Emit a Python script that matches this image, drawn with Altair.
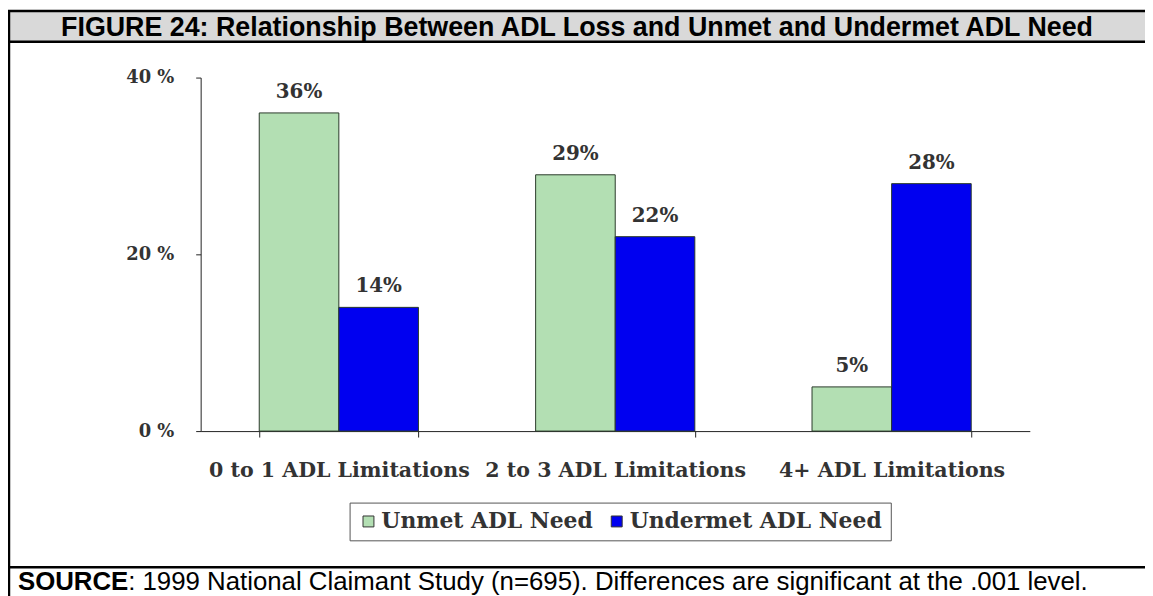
import altair as alt
import pandas as pd

categories = ["0 to 1 ADL Limitations", "2 to 3 ADL Limitations", "4+ ADL Limitations"]
series_names = ["Unmet ADL Need", "Undermet ADL Need"]
unmet = [36, 29, 5]
undermet = [14, 22, 28]
series_colors = ["#b3dfb3", "#0000f0"]
y_ticks = [0, 20, 40]
title_text = "FIGURE 24: Relationship Between ADL Loss and Unmet and Undermet ADL Need"
source_bold = "SOURCE"
source_rest = ":  1999 National Claimant Study (n=695). Differences are significant at the .001 level."

rows = []
for i, c in enumerate(categories):
    rows.append({"category": c, "series": series_names[0], "value": unmet[i]})
    rows.append({"category": c, "series": series_names[1], "value": undermet[i]})
df = pd.DataFrame(rows)
df["label"] = df["value"].astype(str) + "%"

W, H = 835, 356
SERIF = "DejaVu Serif"
SANS = "Liberation Sans"

x_enc = alt.X(
    "category:N", sort=categories,
    scale=alt.Scale(paddingInner=0.424, paddingOuter=0.212),
    axis=alt.Axis(title=None, labelAngle=0, tickBand="extent", tickSize=6,
                  labelPadding=24, labelFont=SERIF, labelFontWeight="bold",
                  labelFontSize=20.7, labelColor="#333", domainColor="#222",
                  tickColor="#222", labelLimit=0, grid=False),
)
xo_enc = alt.XOffset("series:N", sort=series_names,
                     scale=alt.Scale(paddingInner=0, paddingOuter=0))
y_enc = alt.Y(
    "value:Q", scale=alt.Scale(domain=[0, 40]),
    axis=alt.Axis(title=None, values=y_ticks, labelExpr="datum.value + ' %'",
                  tickSize=5, labelPadding=22, labelFont=SERIF,
                  labelFontWeight="bold", labelFontSize=18, labelColor="#333",
                  domainColor="#222", tickColor="#222", grid=False),
)

bars = alt.Chart(df).mark_bar(stroke="#2a3a2a", strokeWidth=1).encode(
    x=x_enc, xOffset=xo_enc, y=y_enc,
    color=alt.Color(
        "series:N", sort=series_names,
        scale=alt.Scale(domain=series_names, range=series_colors),
        legend=alt.Legend(
            title=None, orient="none", legendX=150, legendY=428,
            direction="horizontal", symbolType="square", symbolSize=121,
            symbolStrokeColor="#333", symbolStrokeWidth=1,
            labelFont=SERIF, labelFontWeight="bold", labelFontSize=22,
            labelColor="#333", labelLimit=0, labelOffset=2,
            strokeColor="#555", fillColor="white", padding=8,
            columnPadding=12,
        ),
    ),
)

labels = alt.Chart(df).mark_text(
    font=SERIF, fontWeight="bold", fontSize=20, color="#333", dy=-15,
    baseline="alphabetic",
).encode(x=alt.X("category:N", sort=categories), xOffset=xo_enc,
         y=alt.Y("value:Q"), text="label:N")

one = pd.DataFrame({"t": [title_text]})
title_bar = alt.Chart(one).mark_rect(fill="#d9d9d9").encode(
    x=alt.value(-194), x2=alt.value(1000), y=alt.value(-67), y2=alt.value(-36))
bar_top = alt.Chart(one).mark_rule(color="black", strokeWidth=2.5).encode(
    x=alt.value(-194), x2=alt.value(1000), y=alt.value(-67))
bar_bottom = alt.Chart(one).mark_rule(color="black", strokeWidth=2.5).encode(
    x=alt.value(-194), x2=alt.value(1000), y=alt.value(-36))
title = alt.Chart(one).mark_text(font=SANS, fontWeight="bold", fontSize=27,
                                 color="black", align="center",
                                 baseline="alphabetic").encode(
    text="t:N", x=alt.value(379), y=alt.value(-42))
left_border = alt.Chart(one).mark_rule(color="black", strokeWidth=2.5).encode(
    x=alt.value(-193), y=alt.value(-68), y2=alt.value(540))
divider = alt.Chart(one).mark_rule(color="black", strokeWidth=2.5).encode(
    x=alt.value(-193), x2=alt.value(1000), y=alt.value(493))
src1 = alt.Chart(pd.DataFrame({"t": [source_bold]})).mark_text(
    font=SANS, fontWeight="bold", fontSize=26, color="black", align="left",
    baseline="alphabetic").encode(
    text="t:N", x=alt.value(-184), y=alt.value(516))
src2 = alt.Chart(pd.DataFrame({"t": [source_rest]})).mark_text(
    font=SANS, fontSize=26, color="black", align="left",
    baseline="alphabetic").encode(
    text="t:N", x=alt.value(-73), y=alt.value(516))

chart = alt.layer(title_bar, bar_top, bar_bottom, title, left_border, divider,
                  bars, labels, src1, src2).properties(
    width=W, height=H,
    background="white",
    autosize=alt.AutoSizeParams(type="none"),
    padding={"left": 194, "top": 68, "right": 116, "bottom": 164},
).configure_view(stroke=None)

chart.save("out.html", embed_options={"renderer": "svg", "actions": False})
